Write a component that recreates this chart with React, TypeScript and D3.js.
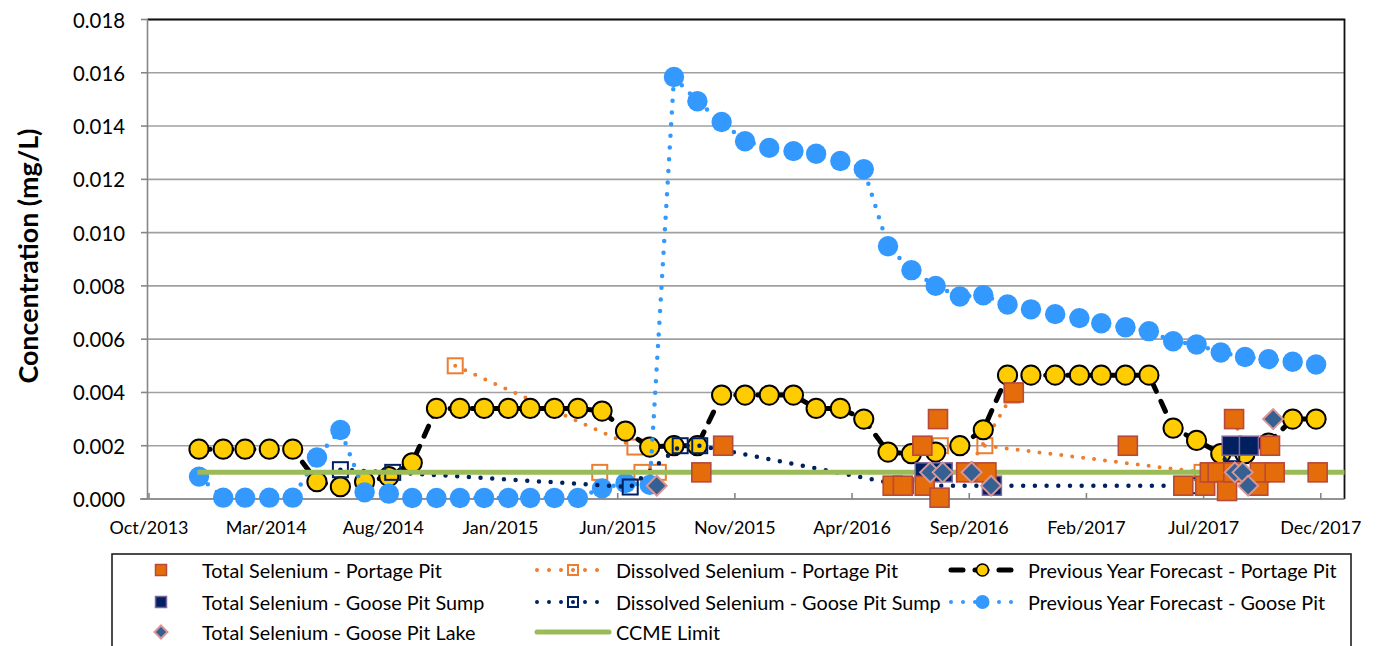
import React from 'react';
import * as d3 from 'd3';

// ---------------- DATA ----------------
// Monthly forecast months (month-end dates)
const forecastMonths: string[] = [
  '2013-12', '2014-01', '2014-02', '2014-03', '2014-04', '2014-05', '2014-06', '2014-07', '2014-08', '2014-09', '2014-10', '2014-11',
  '2014-12', '2015-01', '2015-02', '2015-03', '2015-04', '2015-05', '2015-06', '2015-07', '2015-08', '2015-09', '2015-10', '2015-11',
  '2015-12', '2016-01', '2016-02', '2016-03', '2016-04', '2016-05', '2016-06', '2016-07', '2016-08', '2016-09', '2016-10', '2016-11',
  '2016-12', '2017-01', '2017-02', '2017-03', '2017-04', '2017-05', '2017-06', '2017-07', '2017-08', '2017-09', '2017-10', '2017-11',
];

const forecastPortage: number[] = [
  0.00187, 0.00187, 0.00187, 0.00187, 0.00187, 0.00065, 0.00046, 0.00065, 0.00084, 0.00136,
  0.0034, 0.0034, 0.0034, 0.0034, 0.0034, 0.0034, 0.0034, 0.0033, 0.00255, 0.00195,
  0.002, 0.002, 0.0039, 0.0039, 0.0039, 0.0039, 0.0034, 0.0034, 0.003, 0.00176,
  0.0017, 0.00176, 0.002, 0.0026, 0.00465, 0.00465, 0.00465, 0.00465, 0.00465, 0.00465,
  0.00465, 0.00266, 0.0022, 0.0017, 0.0017, 0.0021, 0.003, 0.003,
];

const forecastGoose: number[] = [
  0.00084, 0.00005, 0.00005, 0.00005, 0.00005, 0.00156, 0.00259, 0.00025, 0.0002, 0.00004,
  0.00004, 0.00004, 0.00004, 0.00004, 0.00004, 0.00004, 0.00004, 0.0004, 0.0006, 0.00053,
  0.01584, 0.01493, 0.01415, 0.01343, 0.01318, 0.01306, 0.01296, 0.01269, 0.01238, 0.00949,
  0.00859, 0.008, 0.0076, 0.00765, 0.0073, 0.00712, 0.00694, 0.00679, 0.0066, 0.00645,
  0.0063, 0.00592, 0.0058, 0.0055, 0.00533, 0.00525, 0.00515, 0.00505,
];

const totalPortageDates: string[] = [
  '2015-10-05', '2015-11-02', '2016-06-06', '2016-06-19', '2016-07-14', '2016-07-17', '2016-08-03', '2016-08-05',
  '2016-09-08', '2016-10-04', '2016-11-08', '2017-04-03', '2017-06-13', '2017-07-11', '2017-07-17', '2017-07-27',
  '2017-08-08', '2017-08-16', '2017-08-17', '2017-09-17', '2017-09-19', '2017-10-02', '2017-10-08', '2017-12-02',
];
const totalPortageValues: number[] = [
  0.001, 0.002, 0.0005, 0.0005, 0.002, 0.0005, 0.003, 0.00005,
  0.001, 0.001, 0.004, 0.002, 0.0005, 0.0005, 0.001, 0.001,
  0.0003, 0.001, 0.003, 0.0005, 0.001, 0.002, 0.001, 0.001,
];

const totalGooseSumpDates: string[] = ['2016-07-17', '2016-08-09', '2016-10-11', '2017-08-14', '2017-09-05'];
const totalGooseSumpValues: number[] = [0.001, 0.001, 0.0005, 0.002, 0.002];

const gooseLakeDates: string[] = [
  '2015-08-09', '2016-07-24', '2016-08-09', '2016-09-15', '2016-10-10', '2017-08-18', '2017-08-28', '2017-09-04', '2017-10-06',
];
const gooseLakeValues: number[] = [0.0005, 0.001, 0.001, 0.001, 0.0005, 0.001, 0.001, 0.0005, 0.003];

// null entries break the connecting line
const dissolvedPortageDates: (string | null)[] = [
  '2014-11-24', '2015-07-12', null, '2015-05-28', '2015-07-21', '2015-08-11', null,
  '2016-08-06', null, '2016-09-08', '2016-11-06', null, '2016-10-02', '2017-07-07', null,
  '2017-08-15', '2017-09-19',
];
const dissolvedPortageValues: (number | null)[] = [
  0.005, 0.00195, null, 0.001, 0.001, 0.001, null,
  0.002, null, 0.001, 0.0039, null, 0.002, 0.001, null,
  0.003, 0.001,
];

const dissolvedGooseDates: string[] = [
  '2014-06-30', '2014-09-05', '2015-07-06', '2015-09-08', '2015-10-03', '2016-06-22', '2016-10-11', '2017-06-22', '2017-08-14',
];
const dissolvedGooseValues: number[] = [0.0011, 0.001, 0.00045, 0.002, 0.002, 0.0005, 0.0005, 0.0005, 0.0017];

const ccmeDates: string[] = ['2013-12-29', '2018-01-06'];
const ccmeValues: number[] = [0.001, 0.001];

const yTicks: number[] = [0, 0.002, 0.004, 0.006, 0.008, 0.01, 0.012, 0.014, 0.016, 0.018];

const legendLabels: string[] = [
  'Total Selenium - Portage Pit',
  'Dissolved Selenium - Portage Pit',
  'Previous Year Forecast - Portage Pit',
  'Total Selenium - Goose Pit Sump',
  'Dissolved Selenium - Goose Pit Sump',
  'Previous Year Forecast - Goose Pit',
  'Total Selenium - Goose Pit Lake',
  'CCME Limit',
];

const yTitle = 'Concentration (mg/L)';

// ---------------- HELPERS ----------------
const parse = d3.utcParse('%Y-%m-%d');
const monthEnd = (ym: string) => d3.utcDay.offset(d3.utcMonth.offset(parse(ym + '-01') as Date, 1), -1);
const fmt = d3.utcFormat('%b/%Y');

const FONT = 'Lato, "Open Sans", sans-serif';

function fitSize(text: string, weight: string, target: number): number {
  try {
    const ctx = document.createElement('canvas').getContext('2d');
    if (!ctx) return 16;
    ctx.font = `${weight} 100px Lato`;
    const w = ctx.measureText(text).width;
    return (100 * target) / w;
  } catch (e) {
    return 16;
  }
}

const COLORS = {
  orange: '#E46C0A',
  orangeEdge: '#B9493A',
  orangeLine: '#ED7D31',
  navy: '#002060',
  navyEdge: '#7E649E',
  lakeFill: '#366092',
  lakeEdge: '#D99694',
  yellow: '#FFCC00',
  blue: '#3399FF',
  green: '#9BBB59',
  grid: '#A0A0A0',
  axis: '#868686',
};

type Pt = { d: Date; v: number } | null;

const zipPts = (ds: (string | null)[], vs: (number | null)[]): Pt[] =>
  ds.map((s, i) => (s == null || vs[i] == null ? null : { d: parse(s) as Date, v: vs[i] as number }));

export default function App() {
  const start = Date.UTC(2013, 9, 28);
  const x = d3
    .scaleUtc()
    .domain([new Date(start), d3.utcDay.offset(new Date(start), 1531)])
    .range([149, 1345]);
  const y = d3.scaleLinear().domain([0, 0.018]).range([499, 19.5]);

  const plotL = 147.5, plotR = 1344.5, plotT = 19.5, plotB = 499;

  const xTicks = d3.range(0, 1501, 150).map((k) => d3.utcDay.offset(new Date(start), k));

  const fDates = forecastMonths.map(monthEnd);
  const fcPortage: Pt[] = fDates.map((d, i) => ({ d, v: forecastPortage[i] }));
  const fcGoose: Pt[] = fDates.map((d, i) => ({ d, v: forecastGoose[i] }));
  const totPortage = zipPts(totalPortageDates, totalPortageValues);
  const totGoose = zipPts(totalGooseSumpDates, totalGooseSumpValues);
  const lake = zipPts(gooseLakeDates, gooseLakeValues);
  const disPortage = zipPts(dissolvedPortageDates, dissolvedPortageValues);
  const disGoose = zipPts(dissolvedGooseDates, dissolvedGooseValues);
  const ccme = zipPts(ccmeDates, ccmeValues);

  const line = d3
    .line<Pt>()
    .defined((p) => p != null)
    .x((p) => x((p as any).d))
    .y((p) => y((p as any).v));

  const xFont = fitSize('Oct/2013', 'normal', 79);
  const yFont = fitSize('0.018', 'normal', 52);
  const legFont = fitSize(legendLabels[0], 'normal', 240);
  const titleFont = fitSize(yTitle, 'bold', 255);

  const sq = (cx: number, cy: number, s: number, fill: string, stroke: string, sw: number, key?: any) => (
    <rect key={key} x={cx - s / 2} y={cy - s / 2} width={s} height={s} fill={fill} stroke={stroke} strokeWidth={sw} />
  );
  const diamond = (cx: number, cy: number, r: number, key?: any) => (
    <path
      key={key}
      d={`M${cx},${cy - r}L${cx + r},${cy}L${cx},${cy + r}L${cx - r},${cy}Z`}
      fill={COLORS.lakeFill}
      stroke={COLORS.lakeEdge}
      strokeWidth={2}
    />
  );

  const valid = (arr: Pt[]) => arr.filter((p) => p != null) as { d: Date; v: number }[];

  // legend geometry
  const rows = [570, 602, 632];
  const col1M = 161, col1T = 202;
  const col2L = 537, col2R = 609, col2T = 616;
  const col3L = 951, col3R = 1014, col3T = 1028;

  return (
    <svg
      width={1377}
      height={646}
      style={{ position: 'absolute', left: 0, top: 0, background: '#fff', fontFamily: FONT }}
    >
      <defs>
        <clipPath id="plotClip">
          <rect x={plotL} y={0} width={plotR - plotL} height={plotB + 20} />
        </clipPath>
      </defs>
      <rect x={0} y={0} width={1377} height={646} fill="#fff" />
      {/* gridlines */}
      {yTicks.map((t) => (
        <line key={'g' + t} x1={plotL} x2={plotR} y1={y(t)} y2={y(t)} stroke={COLORS.grid} strokeWidth={1.6} />
      ))}
      {/* plot border top/right */}
      <line x1={plotL} x2={plotR + 0.8} y1={plotT} y2={plotT} stroke="#111" strokeWidth={1.8} />
      <line x1={plotR} x2={plotR} y1={plotT} y2={plotB} stroke="#111" strokeWidth={1.8} />
      {/* axes */}
      <line x1={plotL} x2={plotL} y1={plotT} y2={plotB} stroke={COLORS.axis} strokeWidth={1.6} />
      <line x1={140} x2={plotR} y1={plotB} y2={plotB} stroke={COLORS.axis} strokeWidth={1.6} />
      {yTicks.map((t) => (
        <g key={'yt' + t}>
          <line x1={141} x2={plotL} y1={y(t)} y2={y(t)} stroke={COLORS.axis} strokeWidth={1.6} />
          <text x={125} y={y(t)} textAnchor="end" dominantBaseline="central" fontSize={yFont} fill="#000">
            {t.toFixed(3)}
          </text>
        </g>
      ))}
      {xTicks.map((t, i) => (
        <g key={'xt' + i}>
          <line x1={x(t)} x2={x(t)} y1={plotB - 6} y2={plotB} stroke={COLORS.axis} strokeWidth={1.6} />
          <text x={x(t)} y={527} textAnchor="middle" dominantBaseline="central" fontSize={xFont} fill="#000">
            {fmt(t)}
          </text>
        </g>
      ))}
      <text
        transform={`translate(28,256) rotate(-90)`}
        textAnchor="middle"
        dominantBaseline="central"
        fontWeight="bold"
        fontSize={titleFont}
        fill="#000"
      >
        {yTitle}
      </text>

      <g clipPath="url(#plotClip)">
        {/* Dissolved Selenium - Portage Pit */}
        <path d={line(disPortage) || ''} fill="none" stroke={COLORS.orangeLine} strokeWidth={4} strokeLinecap="round" strokeDasharray="0 11" />
        {valid(disPortage).map((p, i) => sq(x(p.d), y(p.v), 15, 'none', COLORS.orangeLine, 2, 'dp' + i))}

        {/* Previous Year Forecast - Portage Pit */}
        <path d={line(fcPortage) || ''} fill="none" stroke="#000" strokeWidth={5} strokeLinecap="round" strokeDasharray="11 11" />
        {valid(fcPortage).map((p, i) => (
          <circle key={'fp' + i} cx={x(p.d)} cy={y(p.v)} r={9.6} fill={COLORS.yellow} stroke="#000" strokeWidth={2} />
        ))}

        {/* Previous Year Forecast - Goose Pit */}
        <path d={line(fcGoose) || ''} fill="none" stroke={COLORS.blue} strokeWidth={4.5} strokeLinecap="round" strokeDasharray="0 11.7" />
        {valid(fcGoose).map((p, i) => (
          <circle key={'fg' + i} cx={x(p.d)} cy={y(p.v)} r={10.2} fill={COLORS.blue} />
        ))}

        {/* Dissolved Selenium - Goose Pit Sump */}
        <path d={line(disGoose) || ''} fill="none" stroke={COLORS.navy} strokeWidth={4.5} strokeLinecap="round" strokeDasharray="0 11.7" />
        {valid(disGoose).map((p, i) => sq(x(p.d), y(p.v), 15, 'none', COLORS.navy, 2, 'dg' + i))}

        {/* CCME Limit */}
        <path d={line(ccme) || ''} fill="none" stroke={COLORS.green} strokeWidth={5} />

        {/* Total Selenium - Goose Pit Sump */}
        {valid(totGoose).map((p, i) => sq(x(p.d), y(p.v), 19, COLORS.navy, COLORS.navyEdge, 1.5, 'tg' + i))}
        {/* Total Selenium - Portage Pit */}
        {valid(totPortage).map((p, i) => sq(x(p.d), y(p.v), 19, COLORS.orange, COLORS.orangeEdge, 1.6, 'tp' + i))}
        {/* Total Selenium - Goose Pit Lake */}
        {valid(lake).map((p, i) => diamond(x(p.d), y(p.v), 10, 'lk' + i))}
      </g>

      {/* Legend */}
      <rect x={112} y={554} width={1239} height={100} fill="#fff" stroke="#111" strokeWidth={1.5} />
      {/* row 0 */}
      {sq(col1M, rows[0], 11, COLORS.orange, COLORS.orangeEdge, 1.5)}
      <line x1={col2L} x2={col2R} y1={rows[0]} y2={rows[0]} stroke={COLORS.orangeLine} strokeWidth={4} strokeLinecap="round" strokeDasharray="0 12" />
      {sq((col2L + col2R) / 2, rows[0], 10, 'none', COLORS.orangeLine, 2)}
      <line x1={col3L} x2={col3R} y1={rows[0]} y2={rows[0]} stroke="#000" strokeWidth={5} strokeLinecap="round" strokeDasharray="12 12" />
      <circle cx={(col3L + col3R) / 2} cy={rows[0]} r={6} fill={COLORS.yellow} stroke="#000" strokeWidth={1.6} />
      {/* row 1 */}
      {sq(col1M, rows[1], 11, COLORS.navy, COLORS.navyEdge, 1.5)}
      <line x1={col2L} x2={col2R} y1={rows[1]} y2={rows[1]} stroke={COLORS.navy} strokeWidth={4} strokeLinecap="round" strokeDasharray="0 12" />
      {sq((col2L + col2R) / 2, rows[1], 10, 'none', COLORS.navy, 2)}
      <line x1={col3L} x2={col3R} y1={rows[1]} y2={rows[1]} stroke={COLORS.blue} strokeWidth={4} strokeLinecap="round" strokeDasharray="0 12" />
      <circle cx={(col3L + col3R) / 2} cy={rows[1]} r={7} fill={COLORS.blue} />
      {/* row 2 */}
      {diamond(col1M, rows[2], 6.5)}
      <line x1={col2L} x2={col2R} y1={rows[2]} y2={rows[2]} stroke={COLORS.green} strokeWidth={5} strokeLinecap="round" />

      {legendLabels.map((lab, i) => {
        const r = Math.floor(i / 3), c = i % 3;
        const tx = c === 0 ? col1T : c === 1 ? col2T : col3T;
        return (
          <text key={'lg' + i} x={tx} y={rows[r]} dominantBaseline="central" fontSize={legFont} fill="#000">
            {lab}
          </text>
        );
      })}
    </svg>
  );
}
